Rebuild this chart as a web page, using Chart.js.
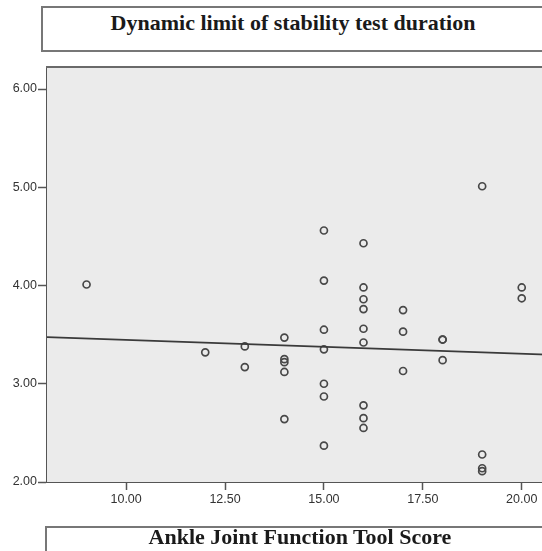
<!DOCTYPE html>
<html>
<head>
<meta charset="utf-8">
<script src="https://cdn.jsdelivr.net/npm/chart.js@4/dist/chart.umd.min.js"></script>
<style>
  html, body { margin: 0; padding: 0; background: #fff; overflow: hidden; width: 542px; height: 551px; }
  #wrap { position: relative; width: 542px; height: 551px; overflow: hidden; }
  #chart { position: absolute; left: 0; top: 0; }
  .box { position: absolute; box-sizing: border-box; border: 2px solid #777; background: #fff; }
  .label { position: absolute; text-align: center; font-family: "Liberation Serif", "Times New Roman", serif;
           font-weight: bold; font-size: 22px; line-height: 22px; color: #1a1a1a; white-space: nowrap; }
</style>
</head>
<body>
<div id="wrap">
  <canvas id="chart" width="567" height="551"></canvas>
  <div class="box" style="left:41px; top:6px; width:504px; height:46px;"></div>
  <div class="label" style="left:41px; top:12px; width:504px;">Dynamic limit of stability test duration</div>
  <div class="box" style="left:45px; top:526px; width:510px; height:40px;"></div>
  <div class="label" style="left:45px; top:526px; width:510px;">Ankle Joint Function Tool Score</div>
</div>
<script>
// Ankle Joint Function Tool score (x) and test duration (y), one entry per subject
var scores = [9, 12, 13, 13, 14, 14, 14, 14, 14,
  15, 15, 15, 15, 15, 15, 15,
  16, 16, 16, 16, 16, 16, 16, 16, 16,
  17, 17, 17, 18, 18, 18, 19, 19, 19, 19, 20, 20];
var durations = [4.01, 3.32, 3.38, 3.17, 3.47, 3.25, 3.22, 3.12, 2.64,
  4.56, 4.05, 3.55, 3.35, 3.00, 2.87, 2.37,
  4.43, 3.98, 3.86, 3.76, 3.56, 3.42, 2.78, 2.65, 2.55,
  3.75, 3.53, 3.13, 3.45, 3.45, 3.24, 5.01, 2.28, 2.14, 2.11, 3.98, 3.87];

// fit line end points
var fitX = [8, 21];
var fitY = [3.474, 3.291];

var xTicks = [10, 12.5, 15, 17.5, 20];
var yTicks = [2, 3, 4, 5, 6];

var points = scores.map(function (s, i) {
  return {x: s, y: durations[i]};
});
var fitLine = fitX.map(function (v, i) {
  return {x: v, y: fitY[i]};
});

var plotBg = {
  id: 'plotBg',
  beforeDatasetsDraw: function (chart) {
    var a = chart.chartArea;
    var ctx = chart.ctx;
    ctx.save();
    ctx.fillStyle = '#ebebeb';
    ctx.fillRect(a.left, a.top, a.right - a.left, a.bottom - a.top);
    ctx.strokeStyle = '#6a6a6a';
    ctx.lineWidth = 2;
    ctx.beginPath();
    ctx.moveTo(a.left - 1, a.top);
    ctx.lineTo(a.right, a.top);
    ctx.stroke();
    ctx.restore();
  }
};

var tickFont = {family: '"Liberation Sans", Arial, sans-serif', size: 12.5};

var chart = new Chart('chart', {
  type: 'scatter',
  data: {
    datasets: [{
      type: 'line',
      data: fitLine,
      borderColor: '#3a3a3a',
      borderWidth: 1.8,
      pointRadius: 0,
      fill: false
    }, {
      data: points,
      pointStyle: 'circle',
      pointRadius: 3.5,
      borderWidth: 1.7,
      borderColor: '#484848',
      backgroundColor: 'rgba(0,0,0,0)'
    }]
  },
  plugins: [plotBg],
  options: {
    responsive: false,
    animation: false,
    devicePixelRatio: 1,
    layout: {padding: {top: 67, left: 0, right: 0, bottom: 0}},
    plugins: {
      legend: {display: false},
      tooltip: {enabled: false}
    },
    scales: {
      x: {
        type: 'linear',
        min: 8,
        max: 21,
        afterBuildTicks: function (scale) {
          scale.ticks = xTicks.map(function (v) { return {value: v}; });
        },
        afterFit: function (scale) { scale.height = 69; },
        border: {display: true, color: '#555', width: 2},
        grid: {drawOnChartArea: false, drawTicks: true, tickLength: 8, tickColor: '#555', tickWidth: 1.5},
        ticks: {
          color: '#333',
          font: tickFont,
          padding: 2,
          maxRotation: 0,
          callback: function (v) { return Number(v).toFixed(2); }
        }
      },
      y: {
        type: 'linear',
        min: 2,
        max: 6.224,
        afterBuildTicks: function (scale) {
          scale.ticks = yTicks.map(function (v) { return {value: v}; });
        },
        afterFit: function (scale) { scale.width = 47; },
        border: {display: true, color: '#555', width: 2},
        grid: {drawOnChartArea: false, drawTicks: true, tickLength: 9, tickColor: '#555', tickWidth: 1.5},
        ticks: {
          color: '#333',
          font: tickFont,
          padding: 1,
          callback: function (v) { return Number(v).toFixed(2); }
        }
      }
    }
  }
});
</script>
</body>
</html>
